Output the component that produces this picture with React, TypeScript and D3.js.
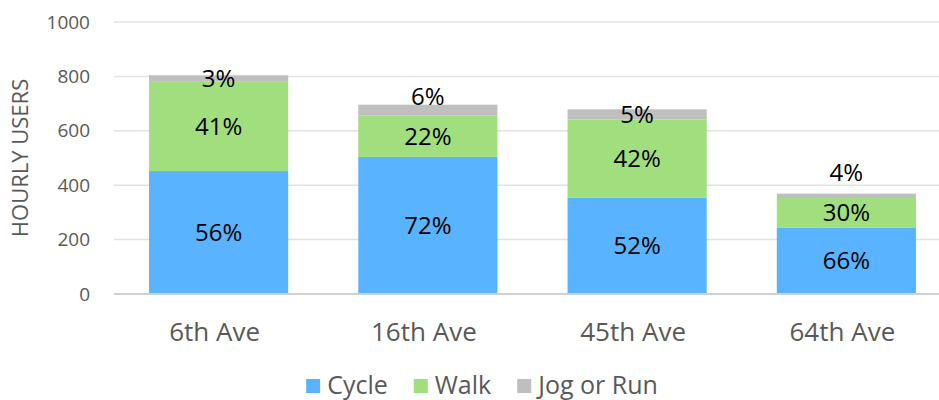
import { useRef, useEffect } from "react";
import * as d3 from "d3";

const streets = ["6th Ave", "16th Ave", "45th Ave", "64th Ave"];
const cycle = [452, 504, 354, 243];
const walk = [328, 153, 288, 110];
const jog = [24, 39, 37, 16];
const yTicks = [0, 200, 400, 600, 800, 1000];
const seriesNames = ["Cycle", "Walk", "Jog or Run"];
const seriesColors = ["#5ab3fe", "#a0de7e", "#bfbfbf"];

const FONT = "'Open Sans', sans-serif";

export default function App() {
  const svgRef = useRef<SVGSVGElement>(null);

  useEffect(() => {
    if (!svgRef.current) return;
    const width = 939;
    const height = 400;
    const svg = d3.select(svgRef.current);
    svg.selectAll("*").remove();
    svg.attr("width", width).attr("height", height);

    const rows = streets.map((s, i) => ({ street: s, Cycle: cycle[i], Walk: walk[i], "Jog or Run": jog[i] }));
    const stacked = d3.stack<any>().keys(seriesNames)(rows);

    const x = d3.scaleBand().domain(streets).range([114, 951]).paddingInner(0.335).paddingOuter(0.1675);
    const y = d3.scaleLinear().domain([0, 1000]).range([294, 22]);

    // gridlines
    svg
      .append("g")
      .selectAll("line")
      .data(yTicks.filter((t) => t > 0))
      .join("line")
      .attr("x1", 114)
      .attr("x2", width)
      .attr("y1", (d) => y(d))
      .attr("y2", (d) => y(d))
      .attr("stroke", "#e2e2e2")
      .attr("stroke-width", 1.5);

    // tick labels
    svg
      .append("g")
      .selectAll("text")
      .data(yTicks)
      .join("text")
      .attr("x", 90)
      .attr("y", (d) => y(d))
      .attr("dy", "0.35em")
      .attr("text-anchor", "end")
      .style("font-family", FONT)
      .style("font-size", "19px")
      .style("fill", "#595959")
      .text((d) => d);

    // bars
    stacked.forEach((layer, li) => {
      svg
        .append("g")
        .selectAll("rect")
        .data(layer)
        .join("rect")
        .attr("x", (d: any) => x(d.data.street) ?? 0)
        .attr("y", (d: any) => y(d[1]))
        .attr("width", x.bandwidth())
        .attr("height", (d: any) => y(d[0]) - y(d[1]))
        .attr("fill", seriesColors[li]);
    });

    // baseline
    svg
      .append("line")
      .attr("x1", 114)
      .attr("x2", width)
      .attr("y1", y(0))
      .attr("y2", y(0))
      .attr("stroke", "#d0d0d0")
      .attr("stroke-width", 2);

    // data labels
    streets.forEach((s, i) => {
      const total = cycle[i] + walk[i] + jog[i];
      const cx = (x(s) ?? 0) + x.bandwidth() / 2;
      const centers = stacked.map((layer) => (y(layer[i][0]) + y(layer[i][1])) / 2);
      // keep the thin top label clear of the walk label
      centers[2] = Math.min(centers[2], centers[1] - 40);
      const vals = [cycle[i], walk[i], jog[i]];
      vals.forEach((v, k) => {
        svg
          .append("text")
          .attr("x", cx)
          .attr("y", centers[k])
          .attr("dy", "0.35em")
          .attr("text-anchor", "middle")
          .style("font-family", FONT)
          .style("font-size", "24px")
          .style("fill", "#000")
          .text(`${Math.round((v / total) * 100)}%`);
      });
    });

    // category labels
    svg
      .append("g")
      .selectAll("text")
      .data(streets)
      .join("text")
      .attr("x", (d) => (x(d) ?? 0) + x.bandwidth() / 2 - 4)
      .attr("y", 341)
      .attr("text-anchor", "middle")
      .style("font-family", FONT)
      .style("font-size", "26px")
      .style("fill", "#595959")
      .text((d) => d);

    // y axis title
    svg
      .append("text")
      .attr("transform", "translate(28,158) rotate(-90)")
      .attr("text-anchor", "middle")
      .style("font-family", FONT)
      .style("font-size", "22px")
      .style("fill", "#595959")
      .text("HOURLY USERS");

    // legend
    const legend = svg.append("g");
    let cursor = 0;
    seriesNames.forEach((name, i) => {
      const item = legend.append("g").attr("transform", `translate(${cursor},0)`);
      item.append("rect").attr("x", 0).attr("y", 379).attr("width", 14).attr("height", 14).attr("fill", seriesColors[i]);
      const t = item
        .append("text")
        .attr("x", 21)
        .attr("y", 394)
        .style("font-family", FONT)
        .style("font-size", "25px")
        .style("fill", "#595959")
        .text(name);
      const w = (t.node() as SVGTextElement).getComputedTextLength();
      cursor += 21 + w + 26;
    });
    const legendWidth = cursor - 26;
    legend.attr("transform", `translate(${482 - legendWidth / 2},0)`);
  }, []);

  return <svg ref={svgRef} style={{ position: "absolute", left: 0, top: 0 }} />;
}
